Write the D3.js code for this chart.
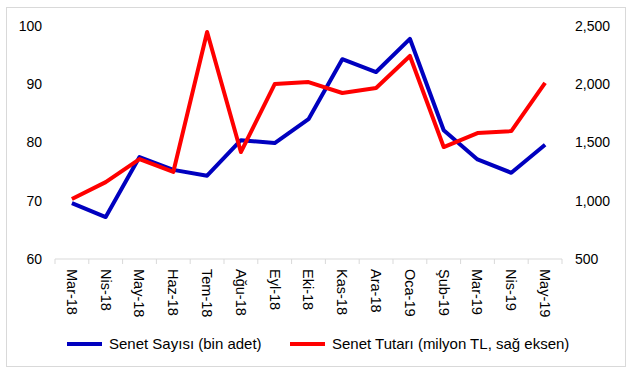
<!DOCTYPE html>
<html>
<head>
<meta charset="utf-8">
<script src="https://cdn.jsdelivr.net/npm/d3@7"></script>
<style>
  body { margin: 0; background: #fff; }
  svg { font-family: "Liberation Sans", Arial, sans-serif; }
</style>
</head>
<body>
<svg width="634" height="375"></svg>
<script>
const months = ["Mar-18", "Nis-18", "May-18", "Haz-18", "Tem-18", "Ağu-18", "Eyl-18", "Eki-18",
  "Kas-18", "Ara-18", "Oca-19", "Şub-19", "Mar-19", "Nis-19", "May-19"];
const senetSayisi = [69.6, 67.2, 77.5, 75.3, 74.3, 80.4, 79.9, 84.0, 94.3, 92.1, 97.8, 82.1, 77.1, 74.8, 79.6];
const senetTutari = [1015, 1160, 1358, 1247, 2449, 1418, 2002, 2019, 1925, 1968, 2243, 1461, 1581, 1598, 2011];
const leftTicks = [60, 70, 80, 90, 100];
const rightTicks = [500, 1000, 1500, 2000, 2500];

const svg = d3.select("svg");
const plotLeft = 55, plotRight = 562, plotTop = 26, plotBottom = 259;

svg.append("rect")
  .attr("x", 6.5).attr("y", 7.5).attr("width", 619).attr("height", 359)
  .attr("fill", "none").attr("stroke", "#d9d9d9");

const x = d3.scaleBand().domain(months).range([plotLeft, plotRight]);
const yL = d3.scaleLinear().domain([60, 100]).range([plotBottom, plotTop]);
const yR = d3.scaleLinear().domain([500, 2500]).range([plotBottom, plotTop]);

// left axis labels
svg.append("g").selectAll("text")
  .data(leftTicks).enter().append("text")
  .attr("x", 42).attr("y", d => yL(d)).attr("dy", "0.35em")
  .attr("text-anchor", "end").attr("font-size", 14).attr("fill", "#000")
  .text(d => d);

// right axis labels (left aligned)
const fmt = d3.format(",");
svg.append("g").selectAll("text")
  .data(rightTicks).enter().append("text")
  .attr("x", 575).attr("y", d => yR(d)).attr("dy", "0.35em")
  .attr("font-size", 14).attr("fill", "#000")
  .text(d => fmt(d));

// x axis
const xAxis = svg.append("g").attr("transform", `translate(0,${plotBottom})`);
xAxis.append("line").attr("x1", plotLeft).attr("x2", plotRight).attr("stroke", "#d9d9d9");
xAxis.selectAll(".tk")
  .data(months.concat([null])).enter().append("line")
  .attr("x1", (d, i) => plotLeft + i * x.step()).attr("x2", (d, i) => plotLeft + i * x.step())
  .attr("y1", 0).attr("y2", 5).attr("stroke", "#d9d9d9");
xAxis.selectAll(".lbl")
  .data(months).enter().append("text")
  .attr("transform", d => `translate(${x(d) + x.bandwidth() / 2},10) rotate(90)`)
  .attr("dy", "0.35em").attr("font-size", 14.5).attr("fill", "#000")
  .text(d => d);

const cx = d => x(d) + x.bandwidth() / 2;

svg.append("path")
  .datum(senetSayisi)
  .attr("fill", "none").attr("stroke", "#0000bf").attr("stroke-width", 4)
  .attr("stroke-linejoin", "round")
  .attr("d", d3.line().x((d, i) => cx(months[i])).y(d => yL(d)));

svg.append("path")
  .datum(senetTutari)
  .attr("fill", "none").attr("stroke", "#ff0000").attr("stroke-width", 4)
  .attr("stroke-linejoin", "round")
  .attr("d", d3.line().x((d, i) => cx(months[i])).y(d => yR(d)));

// legend
const legend = [
  { label: "Senet Sayısı (bin adet)", color: "#0000bf", x: 67 },
  { label: "Senet Tutarı (milyon TL, sağ eksen)", color: "#ff0000", x: 290 }
];
const lg = svg.append("g").selectAll("g").data(legend).enter().append("g")
  .attr("transform", d => `translate(${d.x},344)`);
lg.append("line").attr("x1", 0).attr("x2", 35)
  .attr("stroke", d => d.color).attr("stroke-width", 4);
lg.append("text").attr("x", 42).attr("dy", "0.35em")
  .attr("font-size", 15).attr("fill", "#000").text(d => d.label);
</script>
</body>
</html>
